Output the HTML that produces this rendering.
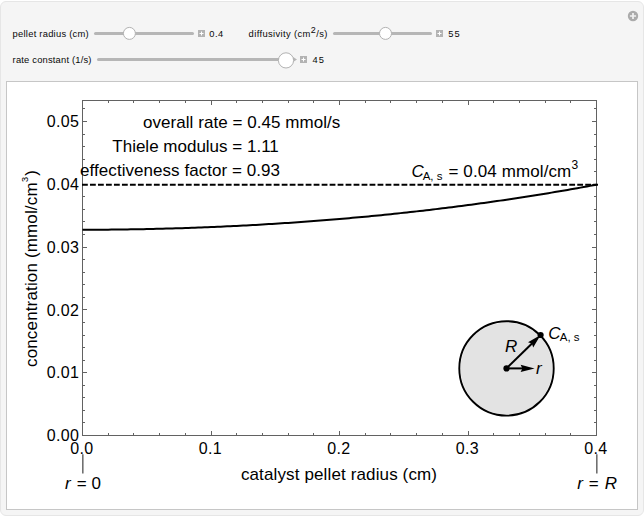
<!DOCTYPE html>
<html><head><meta charset="utf-8"><style>
html,body{margin:0;padding:0;background:#fff;width:644px;height:518px;overflow:hidden;}
body{position:relative;font-family:"Liberation Sans",sans-serif;}
.panel{position:absolute;left:0;top:1px;width:642px;height:513px;border:1px solid #e6e6e6;border-radius:6px;background:#f5f5f5;}
.inner{position:absolute;left:6px;top:81px;width:630px;height:427px;border:1px solid #c6c6c6;background:#fff;}
svg{position:absolute;left:0;top:0;}
</style></head><body>
<div class="panel"></div>
<div class="inner"></div>
<svg width="644" height="518" viewBox="0 0 644 518" font-family="Liberation Sans, sans-serif">
<!-- controls -->
<g fill="#080808" font-size="9.4" letter-spacing="0.3">
<text x="12.6" y="37.3" textLength="76.4" lengthAdjust="spacing">pellet radius (cm)</text>
<text x="12.6" y="63.1" textLength="79.2" lengthAdjust="spacing">rate constant (1/s)</text>
<text x="248.6" y="37.3" letter-spacing="0.37">diffusivity (cm<tspan font-size="9" dy="-4.4">2</tspan><tspan dy="4.4">/s)</tspan></text>
<g letter-spacing="1.1" font-size="9.3"><text x="209.2" y="36.8" letter-spacing="0.55">0.4</text>
<text x="448.2" y="36.8">55</text>
<text x="312.6" y="62.8">45</text></g>
</g>
<g fill="#b6b6b6">
<rect x="94" y="32" width="100" height="3" rx="1.5"/>
<rect x="333" y="32" width="99" height="3" rx="1.5"/>
<rect x="97" y="58" width="197" height="3" rx="1.5"/>
<path d="M293,57 L297,59.5 L293,62 Z"/>
</g>
<g fill="#fff" stroke="#b2b2b2" stroke-width="1">
<circle cx="129.4" cy="33.4" r="6"/>
<circle cx="385.5" cy="33.4" r="6"/>
<circle cx="286" cy="60.4" r="7.6"/>
</g>
<g fill="#b3b3b3">
<rect x="198" y="30" width="7" height="7"/>
<rect x="436" y="30" width="7" height="7"/>
<rect x="300" y="56" width="7" height="7"/>
</g>
<path d="M201.5,31.5v4M199.5,33.5h4M439.5,31.5v4M437.5,33.5h4M303.5,57.5v4M301.5,59.5h4" stroke="#fff" stroke-width="1"/>
<circle cx="633" cy="16" r="5.2" fill="#ababab"/>
<path d="M633,12.9V19.1M629.9,16H636.1" stroke="#f2f2f2" stroke-width="1.7"/>

<!-- frame -->
<g fill="none" stroke="#626262" stroke-width="1">
<rect x="82.5" y="100.5" width="514.0" height="335.0"/>
<path d="M83,435.5h4M596,435.5h-4M83,422.5h2M596,422.5h-2M83,410.5h2M596,410.5h-2M83,397.5h2M596,397.5h-2M83,385.5h2M596,385.5h-2M83,372.5h4M596,372.5h-4M83,360.5h2M596,360.5h-2M83,347.5h2M596,347.5h-2M83,335.5h2M596,335.5h-2M83,322.5h2M596,322.5h-2M83,309.5h4M596,309.5h-4M83,297.5h2M596,297.5h-2M83,284.5h2M596,284.5h-2M83,272.5h2M596,272.5h-2M83,259.5h2M596,259.5h-2M83,247.5h4M596,247.5h-4M83,234.5h2M596,234.5h-2M83,221.5h2M596,221.5h-2M83,209.5h2M596,209.5h-2M83,196.5h2M596,196.5h-2M83,184.5h4M596,184.5h-4M83,171.5h2M596,171.5h-2M83,159.5h2M596,159.5h-2M83,146.5h2M596,146.5h-2M83,134.5h2M596,134.5h-2M83,121.5h4M596,121.5h-4M83,108.5h2M596,108.5h-2M82.5,435v-4M82.5,101v4M108.5,435v-2M108.5,101v2M133.5,435v-2M133.5,101v2M159.5,435v-2M159.5,101v2M185.5,435v-2M185.5,101v2M211.5,435v-4M211.5,101v4M236.5,435v-2M236.5,101v2M262.5,435v-2M262.5,101v2M288.5,435v-2M288.5,101v2M313.5,435v-2M313.5,101v2M339.5,435v-4M339.5,101v4M365.5,435v-2M365.5,101v2M390.5,435v-2M390.5,101v2M416.5,435v-2M416.5,101v2M442.5,435v-2M442.5,101v2M468.5,435v-4M468.5,101v4M493.5,435v-2M493.5,101v2M519.5,435v-2M519.5,101v2M545.5,435v-2M545.5,101v2M570.5,435v-2M570.5,101v2M596.5,435v-4M596.5,101v4"/>
</g>
<g font-size="16" fill="#000">
<text x="79.1" y="441.1" text-anchor="end" letter-spacing="0.3">0.00</text>
<text x="79.1" y="378.3" text-anchor="end" letter-spacing="0.3">0.01</text>
<text x="79.1" y="315.5" text-anchor="end" letter-spacing="0.3">0.02</text>
<text x="79.1" y="252.7" text-anchor="end" letter-spacing="0.3">0.03</text>
<text x="79.1" y="189.8" text-anchor="end" letter-spacing="0.3">0.04</text>
<text x="79.1" y="127.0" text-anchor="end" letter-spacing="0.3">0.05</text>
<text x="81.9" y="453.8" text-anchor="middle" letter-spacing="0.3">0.0</text>
<text x="210.4" y="453.8" text-anchor="middle" letter-spacing="0.3">0.1</text>
<text x="338.9" y="453.8" text-anchor="middle" letter-spacing="0.3">0.2</text>
<text x="467.4" y="453.8" text-anchor="middle" letter-spacing="0.3">0.3</text>
<text x="595.9" y="453.8" text-anchor="middle" letter-spacing="0.3">0.4</text>

</g>
<path d="M82,184.70 H598" stroke="#000" stroke-width="2" stroke-dasharray="5.8,2.188" fill="none"/>
<path d="M82.50,229.73 L85.71,229.73 L88.92,229.73 L92.14,229.72 L95.35,229.71 L98.56,229.69 L101.78,229.67 L104.99,229.65 L108.20,229.63 L111.41,229.60 L114.62,229.57 L117.84,229.53 L121.05,229.49 L124.26,229.45 L127.47,229.41 L130.69,229.36 L133.90,229.31 L137.11,229.25 L140.32,229.20 L143.54,229.14 L146.75,229.07 L149.96,229.00 L153.18,228.93 L156.39,228.86 L159.60,228.78 L162.81,228.70 L166.03,228.61 L169.24,228.53 L172.45,228.43 L175.66,228.34 L178.88,228.24 L182.09,228.14 L185.30,228.04 L188.51,227.93 L191.73,227.82 L194.94,227.70 L198.15,227.58 L201.36,227.46 L204.57,227.34 L207.79,227.21 L211.00,227.08 L214.21,226.94 L217.43,226.80 L220.64,226.66 L223.85,226.52 L227.06,226.37 L230.28,226.22 L233.49,226.06 L236.70,225.90 L239.91,225.74 L243.12,225.57 L246.34,225.40 L249.55,225.23 L252.76,225.06 L255.98,224.88 L259.19,224.69 L262.40,224.51 L265.61,224.32 L268.83,224.12 L272.04,223.93 L275.25,223.73 L278.46,223.52 L281.68,223.32 L284.89,223.10 L288.10,222.89 L291.31,222.67 L294.52,222.45 L297.74,222.23 L300.95,222.00 L304.16,221.77 L307.38,221.53 L310.59,221.29 L313.80,221.05 L317.01,220.80 L320.23,220.55 L323.44,220.30 L326.65,220.05 L329.86,219.78 L333.08,219.52 L336.29,219.25 L339.50,218.98 L342.71,218.71 L345.93,218.43 L349.14,218.15 L352.35,217.86 L355.56,217.57 L358.77,217.28 L361.99,216.98 L365.20,216.68 L368.41,216.38 L371.62,216.07 L374.84,215.76 L378.05,215.44 L381.26,215.13 L384.48,214.80 L387.69,214.48 L390.90,214.15 L394.11,213.81 L397.33,213.48 L400.54,213.13 L403.75,212.79 L406.96,212.44 L410.18,212.09 L413.39,211.73 L416.60,211.37 L419.81,211.01 L423.03,210.64 L426.24,210.27 L429.45,209.89 L432.66,209.51 L435.88,209.13 L439.09,208.74 L442.30,208.35 L445.51,207.95 L448.73,207.55 L451.94,207.15 L455.15,206.74 L458.36,206.33 L461.58,205.92 L464.79,205.50 L468.00,205.07 L471.21,204.65 L474.43,204.22 L477.64,203.78 L480.85,203.34 L484.06,202.90 L487.28,202.45 L490.49,202.00 L493.70,201.54 L496.91,201.08 L500.12,200.62 L503.34,200.15 L506.55,199.68 L509.76,199.20 L512.98,198.72 L516.19,198.24 L519.40,197.75 L522.61,197.25 L525.83,196.76 L529.04,196.25 L532.25,195.75 L535.46,195.24 L538.68,194.72 L541.89,194.20 L545.10,193.68 L548.31,193.15 L551.53,192.62 L554.74,192.08 L557.95,191.54 L561.16,191.00 L564.38,190.45 L567.59,189.89 L570.80,189.33 L574.01,188.77 L577.23,188.20 L580.44,187.63 L583.65,187.05 L586.86,186.47 L590.08,185.89 L593.29,185.30 L596.50,184.70" stroke="#000" stroke-width="2" fill="none"/>
<g font-size="17" fill="#000">
<text x="143.0" y="127.8" letter-spacing="0.05">overall rate = 0.45 mmol/s</text>
<text x="112.3" y="151.8">Thiele modulus = 1.11</text>
<text x="80.1" y="175.6" letter-spacing="0.05">effectiveness factor = 0.93</text>
<text x="411.6" y="176.6"><tspan font-style="italic">C</tspan><tspan font-size="11.5" dy="3" dx="-1.2">A, s</tspan><tspan dy="-3" dx="1.2" letter-spacing="0.1"> = 0.04 mmol/cm</tspan><tspan font-size="12" dy="-7.4" dx="0.2">3</tspan></text>
<text x="339" y="480" text-anchor="middle" letter-spacing="0.13">catalyst pellet radius (cm)</text>
<text transform="translate(36.6,268.5) rotate(-90)" text-anchor="middle" letter-spacing="0.15">concentration (mmol/cm<tspan font-size="9.2" dy="-8.2" dx="0.4">3</tspan><tspan dy="8.2" dx="0.8">)</tspan></text>
</g>
<path d="M82.8,454.3V473.6M596.8,454.3V473.6" stroke="#707070" stroke-width="1.6"/>
<g font-size="17" fill="#000">
<text x="64.9" y="488.6"><tspan font-style="italic">r</tspan><tspan x="76.8">=</tspan><tspan x="91.4">0</tspan></text>
<text x="577.3" y="488.6"><tspan font-style="italic">r</tspan><tspan x="588.8">=</tspan><tspan x="604.8" font-style="italic">R</tspan></text>
</g>
<circle cx="506.5" cy="368.4" r="46.0" fill="#e3e3e3"/>
<circle cx="506.5" cy="368.4" r="47.2" fill="none" stroke="#000" stroke-width="1.9"/>
<circle cx="506.5" cy="368.4" r="3.1" fill="#000"/>
<circle cx="540.60" cy="335.00" r="3.1" fill="#000"/>
<path d="M506.5,368.4 L532.74,342.70" stroke="#000" stroke-width="2"/>
<path d="M506.5,368.4 H527" stroke="#000" stroke-width="2"/>
<path d="M540.60,335.00L533.19,347.44L531.88,343.54L528.01,342.15Z M534.60,368.40L520.60,372.10L522.40,368.40L520.60,364.70Z" fill="#000"/>
<g font-size="17" fill="#000" font-style="italic">
<text x="535.9" y="373.6">r</text>
<text x="505" y="351.5">R</text>
</g>
<g font-size="17" fill="#000">
<text x="548.2" y="339"><tspan font-style="italic">C</tspan><tspan font-size="11.5" dy="2.3" dx="-0.7">A, s</tspan></text>
</g>
</svg>
</body></html>
